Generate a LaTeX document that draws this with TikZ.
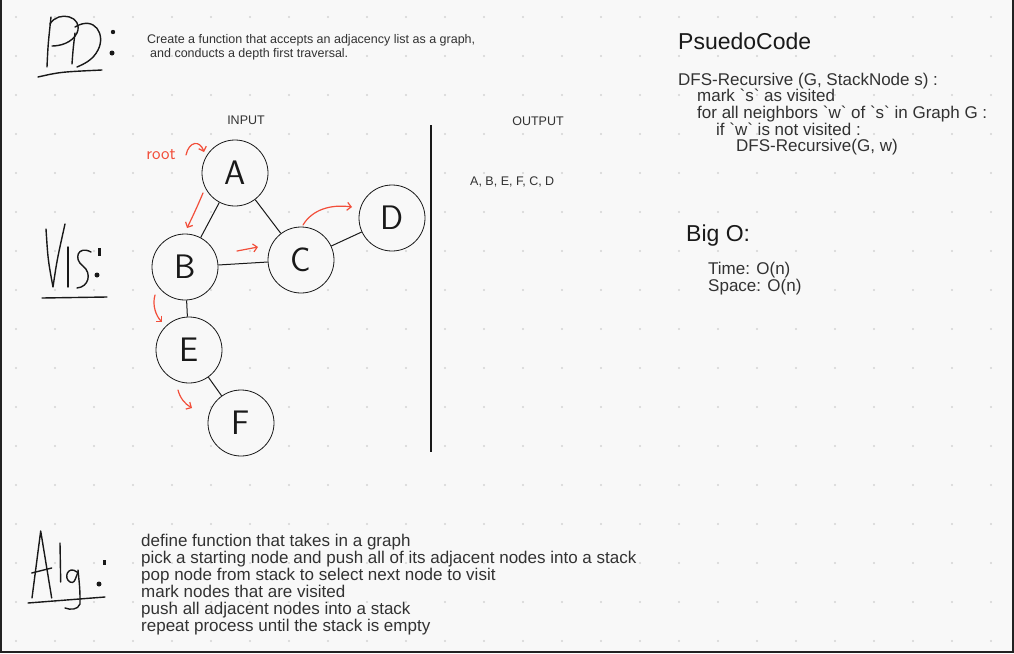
\documentclass[tikz,border=0pt]{standalone}
\usepackage{fontspec}
\setmainfont{Liberation Sans}
\usetikzlibrary{arrows.meta}
\definecolor{board}{RGB}{248,248,248}
\definecolor{frame}{RGB}{34,34,34}
\definecolor{ink}{RGB}{25,25,25}
\definecolor{txt}{RGB}{50,50,50}
\definecolor{pen}{RGB}{242,78,58}
\definecolor{dotc}{RGB}{212,212,212}

\begin{document}
\begin{tikzpicture}[x=1pt,y=-1pt,
  vert/.style={draw=ink,circle,fill=board,minimum size=66pt,inner sep=0pt,
               line width=0.8pt,text=ink,font=\fontsize{34}{34}\sffamily},
  edge/.style={draw=ink,line width=1pt},
  hand/.style={draw=ink,line width=1.4pt,line cap=round,line join=round},
  redarr/.style={draw=pen,line width=1.2pt,line cap=round,
                 -{Straight Barb[length=4pt,width=8pt]}},
  body/.style={anchor=base west,inner sep=0pt,text=txt,font=\fontsize{17}{17}\selectfont},
  small/.style={inner sep=0pt,text=txt,font=\fontsize{12.5}{14}\selectfont},
  big/.style={anchor=base west,inner sep=0pt,text=ink,font=\fontsize{23}{23}\selectfont}
]
\useasboundingbox (0,0) rectangle (1014,653);
\fill[board] (0,0) rectangle (1014,653);
\foreach \i in {0,...,25}
  \foreach \j in {0,...,16}
    \fill[dotc] (16+39*\i,17+39*\j) circle (1.2);
\fill[frame] (0,0) rectangle (2,653);
\fill[frame] (1012,0) rectangle (1014,653);
\fill[frame] (0,651) rectangle (1014,653);

% PD:
\draw[hand] (47,67) .. controls (48,45) .. (51,17);
\draw[hand] (50,24) .. controls (58,10) and (84,16) .. (77,33) .. controls (72,43) and (60,46) .. (52,46);
\draw[hand] (72,64) .. controls (73,50) .. (75,33);
\draw[hand] (75,27) .. controls (95,15) and (106,35) .. (98,50) .. controls (93,60) and (84,64) .. (77,67);
\fill[ink] (113,32) circle (2.2);
\fill[ink] (112,53) circle (2.5);
\draw[hand] (38,77) .. controls (60,72) .. (102,70);
\node[small,anchor=base west,align=left] (pd) at (147,57)
  {Create a function that accepts an adjacency list as a graph,\\
   \hspace*{3pt}and conducts a depth first traversal.};

% Vis:
\draw[hand] (46,229) .. controls (48,260) .. (53,287) .. controls (57,260) .. (65,224);
\draw[hand] (68,247) -- (68,287);
\draw[hand] (91,252) .. controls (78,245) and (73,259) .. (83,266) .. controls (92,273) and (89,287) .. (77,288);
\fill[ink] (97.5,248) rectangle (100.5,256);
\fill[ink] (97,275) circle (2.5);
\draw[hand] (42,298) -- (107,297);

\node[small,anchor=base] (inp) at (246,124.5) {INPUT};
\node[small,anchor=base] (outp) at (538,125.5) {OUTPUT};
\node[small,anchor=base west] (res) at (470,185.5) {A, B, E, F, C, D};
\draw[ink,line width=1.8pt] (431,125) -- (431,452);

\node[vert] (A) at (235,173) {A};
\node[vert] (B) at (185,267) {B};
\node[vert] (C) at (301,260) {C};
\node[vert] (D) at (392,218) {D};
\node[vert] (E) at (189,350) {E};
\node[vert] (F) at (241,423) {F};

\draw[edge] (A) -- (B);
\draw[edge] (A) -- (C);
\draw[edge] (B) -- (C);
\draw[edge] (C) -- (D);
\draw[edge] (B) -- (E);
\draw[edge] (E) -- (F);

\node[text=pen,inner sep=0pt,font=\fontsize{18}{18}\sffamily] (root) at (161,155) {root};
\draw[redarr] (186,155) .. controls (189,141) and (200,140) .. (204,152);
\draw[redarr] (203,193) .. controls (198,205) and (192,218) .. (187,228);
\draw[redarr] (237,251) -- (258,247);
\draw[redarr] (303,225) .. controls (312,210) and (330,204) .. (352,207);
\draw[redarr] (155,295) .. controls (152,305) and (156,316) .. (162,322);
\draw[redarr] (178,390) .. controls (180,398) and (185,404) .. (192,408);

% PsuedoCode
\node[big] (pc) at (678,49.5) {PsuedoCode};
\node[body] (l1) at (678,85) {DFS-Recursive (G, StackNode s) :};
\node[body] (l2) at (697,101.7) {mark \textasciigrave s\textasciigrave{} as visited};
\node[body] (l3) at (697,118.4) {for all neighbors \textasciigrave w\textasciigrave{} of \textasciigrave s\textasciigrave{} in Graph G :};
\node[body] (l4) at (716,135.1) {if \textasciigrave w\textasciigrave{} is not visited :};
\node[body] (l5) at (736,151.8) {DFS-Recursive(G, w)};

\node[big] (bigo) at (686,241) {Big O:};
\node[body] (tm) at (708,274) {Time: O(n)};
\node[body] (sp) at (708,291) {Space: O(n)};

% Alg:
\draw[hand] (32,598) -- (40.7,531) -- (51.7,598);
\draw[hand] (31.7,573) -- (51.7,568);
\draw[hand] (60,543) -- (60.7,582);
\draw[hand] (77,572) .. controls (68,565) and (63,578) .. (70,582) .. controls (74,583) .. (78,572);
\draw[hand] (78,570) .. controls (80,590) .. (80,604) .. controls (78,610) and (70,610) .. (65,608);
\fill[ink] (103,560) rectangle (105.5,565);
\fill[ink] (99,584) circle (2.5);
\draw[hand] (28,603) -- (105,597);

\foreach \t [count=\i from 0] in {define function that takes in a graph,
  pick a starting node and push all of its adjacent nodes into a stack,
  pop node from stack to select next node to visit,
  mark nodes that are visited,
  push all adjacent nodes into a stack,
  repeat process until the stack is empty}
  \node[body] (alg\i) at (141,546+17*\i) {\t};
\end{tikzpicture}
\end{document}
